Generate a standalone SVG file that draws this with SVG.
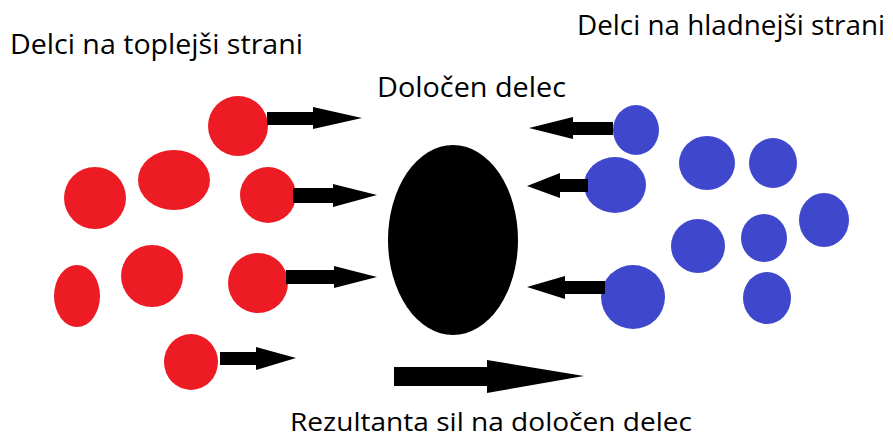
<svg xmlns="http://www.w3.org/2000/svg" width="893" height="439" viewBox="0 0 893 439">
  <style>
    .hot { fill: #ED1C24; }
    .cold { fill: #3F48CC; }
    .arrow { fill: #000000; }
    .label { font-family: "Open Sans", "Liberation Sans", sans-serif; font-size: 27px; fill: #000000; }
  </style>
  <rect width="893" height="439" fill="#FFFFFF"/>

  <!-- particles on the warmer side -->
  <g id="hot-particles">
    <ellipse class="hot" cx="238" cy="126" rx="30" ry="30"/>
    <ellipse class="hot" cx="95" cy="198" rx="31" ry="31"/>
    <ellipse class="hot" cx="174" cy="180" rx="36" ry="30"/>
    <ellipse class="hot" cx="268" cy="195" rx="28" ry="28"/>
    <ellipse class="hot" cx="77" cy="296" rx="23" ry="31"/>
    <ellipse class="hot" cx="152" cy="276" rx="31" ry="31"/>
    <ellipse class="hot" cx="258" cy="283" rx="30" ry="30"/>
    <ellipse class="hot" cx="191" cy="362" rx="27" ry="28"/>
  </g>

  <!-- the particle in question -->
  <g id="particle">
    <ellipse cx="453" cy="240" rx="65" ry="95" fill="#000000"/>
  </g>

  <!-- particles on the colder side -->
  <g id="cold-particles">
    <ellipse class="cold" cx="636" cy="130" rx="23" ry="25"/>
    <ellipse class="cold" cx="615" cy="185" rx="31" ry="28"/>
    <ellipse class="cold" cx="633" cy="297" rx="32" ry="32"/>
    <ellipse class="cold" cx="707" cy="163" rx="28" ry="27"/>
    <ellipse class="cold" cx="773" cy="163" rx="24" ry="25"/>
    <ellipse class="cold" cx="824" cy="220" rx="25" ry="27"/>
    <ellipse class="cold" cx="698" cy="246" rx="27" ry="27"/>
    <ellipse class="cold" cx="764" cy="238" rx="23" ry="24"/>
    <ellipse class="cold" cx="767" cy="298" rx="24" ry="26"/>
  </g>

  <!-- impulse arrows -->
  <g id="connectors">
    <polygon class="arrow" points="267,112 313,112 313,107 362,118 313,129 313,125 267,125"/>
    <polygon class="arrow" points="293,188 333,188 333,184 377,195 333,207 333,203 293,203"/>
    <polygon class="arrow" points="286,270 334,270 334,266 377,277 334,288 334,284 286,284"/>
    <polygon class="arrow" points="220,352 256,352 256,347 296,358 256,370 256,365 220,365"/>
    <polygon class="arrow" points="613,122 573,122 573,117 529,128 573,139 573,135 613,135"/>
    <polygon class="arrow" points="588,179 560,179 560,173 527,186 560,198 560,192 588,192"/>
    <polygon class="arrow" points="605,281 565,281 565,276 527,287 565,299 565,294 605,294"/>
    <polygon class="arrow" points="394,367 487,367 487,360 584,376 487,393 487,386 394,386"/>
  </g>

  <!-- labels -->
  <g id="labels">
    <text class="label" x="10" y="54" textLength="293" lengthAdjust="spacingAndGlyphs">Delci na toplejši strani</text>
    <text class="label" x="577" y="35" textLength="308" lengthAdjust="spacingAndGlyphs">Delci na hladnejši strani</text>
    <text class="label" x="377" y="97" textLength="189" lengthAdjust="spacingAndGlyphs">Določen delec</text>
    <text class="label" x="290" y="431" style="font-size:25px" textLength="402" lengthAdjust="spacingAndGlyphs">Rezultanta sil na določen delec</text>
  </g>
</svg>
